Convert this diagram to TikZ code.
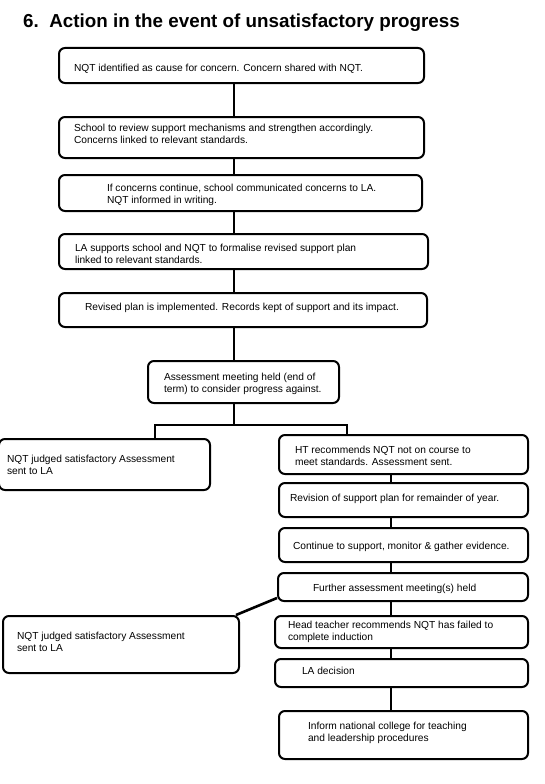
\documentclass[tikz,border=0pt]{standalone}
\usepackage{fontspec}
\setmainfont{Liberation Sans}
\newcommand\btext[4]{\makebox[#1][l]{\hspace*{#2}\raisebox{\dimexpr#4-2pt\relax}[\height][\depth]{\begin{tabular}{@{}l@{}}#3\end{tabular}}}}
\tikzset{
  box/.style={draw, line width=2pt, rounded corners=6pt,
    inner xsep=0pt, inner ysep=0pt, font=\fontsize{10.2}{12}\selectfont},
  conn/.style={line width=2.6pt},
}
\begin{document}
\begin{tikzpicture}[x=1pt,y=1pt]
\useasboundingbox (0,0) rectangle (545,-784);
\node[anchor=base west, inner sep=0pt, font=\bfseries\fontsize{18.8}{22}\selectfont] (title) at (23,-28)
  {6.\ \ Action in the event of unsatisfactory progress};

\coordinate (spine) at (234,0);
\coordinate (rs) at (391,0);
\coordinate (lx) at (155,0);
\coordinate (rx) at (347,0);
\coordinate (jc) at (234,-425);

\node[box, minimum height=35pt] (b1) at (241.5,-65.5)
  {\btext{365pt}{15pt}{NQT identified as cause for concern. Concern shared with NQT.}{-2pt}};
\node[box, minimum height=41pt] (b2) at (241.5,-137.5)
  {\btext{365pt}{15pt}{School to review support mechanisms and strengthen accordingly.\\Concerns linked to relevant standards.}{4pt}};
\node[box, minimum height=36pt] (b3) at (240.5,-193)
  {\btext{363pt}{48pt}{If concerns continue, school communicated concerns to LA.\\NQT informed in writing.}{0pt}};
\node[box, minimum height=35pt] (b4) at (243.5,-251.5)
  {\btext{369pt}{16pt}{LA supports school and NQT to formalise revised support plan\\linked to relevant standards.}{-2pt}};
\node[box, minimum height=34pt] (b5) at (243,-310)
  {\btext{368pt}{26pt}{Revised plan is implemented. Records kept of support and its impact.}{4pt}};
\node[box, minimum height=42pt] (b6) at (243.5,-382)
  {\btext{191pt}{16pt}{Assessment meeting held (end of\\term) to consider progress against.}{0pt}};
\node[box, minimum height=51pt] (b7) at (104.5,-464.5)
  {\btext{211pt}{8pt}{NQT judged satisfactory Assessment\\sent to LA}{0pt}};
\node[box, minimum height=39pt] (b8) at (403.5,-454.5)
  {\btext{249pt}{16pt}{HT recommends NQT not on course to\\meet standards. Assessment sent.}{-1pt}};
\node[box, minimum height=34pt] (b9) at (403.5,-500)
  {\btext{249pt}{11pt}{Revision of support plan for remainder of year.}{3pt}};
\node[box, minimum height=34pt] (b10) at (403.5,-545)
  {\btext{249pt}{14pt}{Continue to support, monitor \& gather evidence.}{0pt}};
\node[box, minimum height=28pt] (b11) at (403,-587)
  {\btext{250pt}{35pt}{Further assessment meeting(s) held}{0pt}};
\node[box, minimum height=57pt] (b12) at (121,-644.5)
  {\btext{236pt}{14pt}{NQT judged satisfactory Assessment\\sent to LA}{3pt}};
\node[box, minimum height=32pt] (b13) at (401.5,-632)
  {\btext{253pt}{13pt}{Head teacher recommends NQT has failed to\\complete induction}{2pt}};
\node[box, minimum height=28pt] (b14) at (401.5,-673)
  {\btext{253pt}{27pt}{LA decision}{3pt}};
\node[box, minimum height=48pt] (b15) at (403.5,-735)
  {\btext{249pt}{29pt}{Inform national college for teaching\\and leadership procedures}{4pt}};

\draw[conn] (b1.south -| spine) -- (b2.north -| spine);
\draw[conn] (b2.south -| spine) -- (b3.north -| spine);
\draw[conn] (b3.south -| spine) -- (b4.north -| spine);
\draw[conn] (b4.south -| spine) -- (b5.north -| spine);
\draw[conn] (b5.south -| spine) -- (b6.north -| spine);
\draw[conn] (b6.south -| spine) -- (jc);
\draw[conn] (b7.north -| lx) |- (jc) -| (b8.north -| rx);
\draw[conn] (b8.south -| rs) -- (b9.north -| rs);
\draw[conn] (b9.south -| rs) -- (b10.north -| rs);
\draw[conn] (b10.south -| rs) -- (b11.north -| rs);
\draw[conn] (b11.south -| rs) -- (b13.north -| rs);
\draw[conn] (b13.south -| rs) -- (b14.north -| rs);
\draw[conn] (b14.south -| rs) -- (b15.north -| rs);
\draw[conn] ([yshift=4pt]b11.south west) -- ([xshift=-4pt]b12.north east);
\end{tikzpicture}
\end{document}
